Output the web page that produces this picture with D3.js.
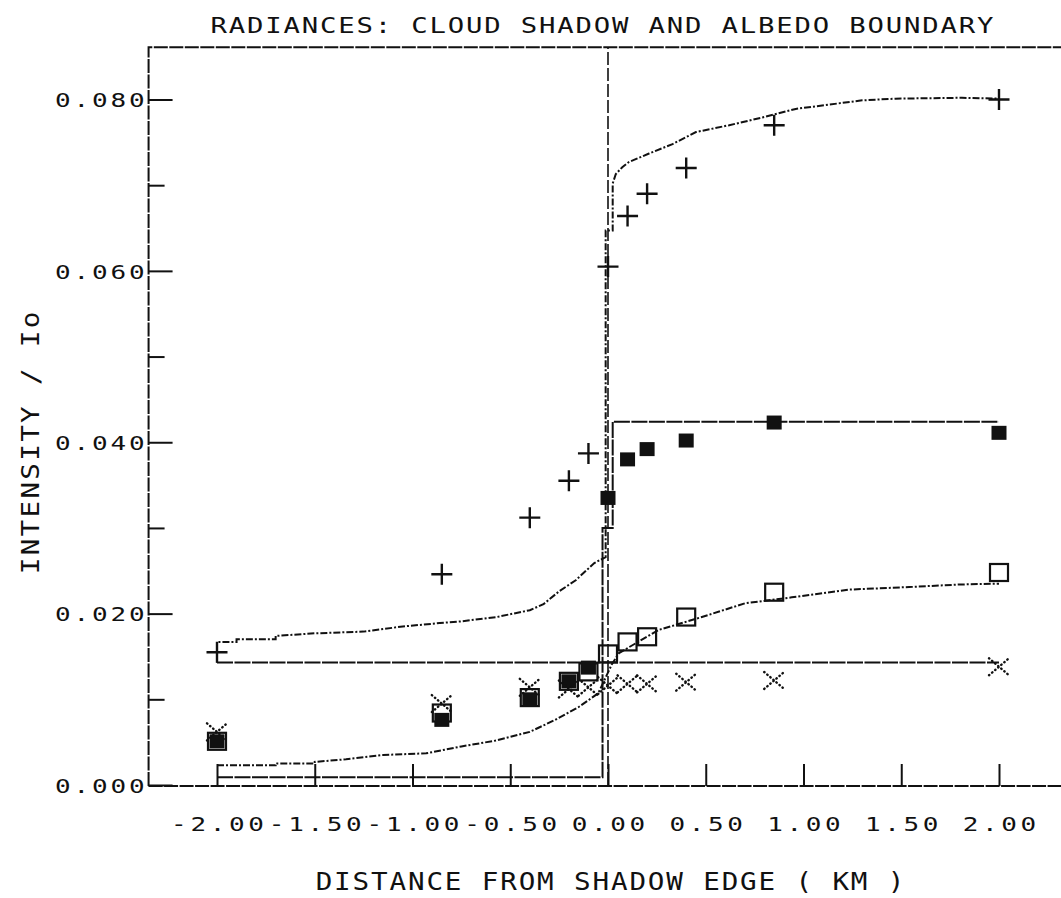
<!DOCTYPE html>
<html>
<head>
<meta charset="utf-8">
<script src="https://cdn.jsdelivr.net/npm/d3@7"></script>
<style>
  body { margin: 0; background: #fff; }
  svg { display: block; }
  text { font-family: "DejaVu Sans Mono", "Liberation Mono", monospace; fill: #111; }
</style>
</head>
<body>
<svg id="chart"></svg>
<script>
// sample distances (km) from the shadow edge
const distances = [-2.0, -0.85, -0.4, -0.2, -0.1, 0.0, 0.1, 0.2, 0.4, 0.85, 2.0];

// measured radiances, one array per symbol
const plusValues = [0.0155, 0.0246, 0.0312, 0.0355, 0.0387, 0.0605, 0.0664, 0.0690, 0.0720, 0.0770, 0.0800];
const filledValues = [0.0051, 0.0076, 0.0100, 0.0121, 0.0137, 0.0335, 0.0380, 0.0392, 0.0402, 0.0423, 0.0411];
const openValues = [0.0051, 0.0084, 0.0102, 0.0121, 0.0132, 0.0153, 0.0167, 0.0173, 0.0196, 0.0225, 0.0248];
const crossValues = [0.0062, 0.0095, 0.0114, 0.0112, 0.0114, 0.0116, 0.0118, 0.0118, 0.0120, 0.0122, 0.0138];

// model curves [distance, intensity]
const modelPlus = [
  [-2.0, 0.0143], [-2.0, 0.0167], [-1.9, 0.0167], [-1.9, 0.0170], [-1.7, 0.0170],
  [-1.7, 0.0174], [-1.5, 0.0177], [-1.25, 0.0179], [-1.05, 0.0185], [-0.86, 0.0189],
  [-0.75, 0.0191], [-0.57, 0.0196], [-0.40, 0.0204], [-0.33, 0.0211], [-0.25, 0.0226],
  [-0.165, 0.0239], [-0.07, 0.0259], [-0.012, 0.0266], [-0.012, 0.0647], [0.024, 0.0647],
  [0.024, 0.0702], [0.04, 0.0713], [0.073, 0.0721], [0.107, 0.0727], [0.21, 0.0737],
  [0.33, 0.0748], [0.45, 0.0762], [0.62, 0.0770], [0.79, 0.0779], [0.96, 0.0789],
  [1.13, 0.0794], [1.30, 0.0799], [1.47, 0.0801], [1.81, 0.0802], [2.0, 0.0801]
];
const modelFilled = [
  [-2.0, 0.0009], [-0.028, 0.0009], [-0.028, 0.0300], [0.024, 0.0300], [0.024, 0.0424], [2.0, 0.0424]
];
const modelOpen = [
  [-2.0, 0.0023], [-1.7, 0.0023], [-1.7, 0.0025], [-1.5, 0.0025], [-1.5, 0.0027],
  [-1.34, 0.0030], [-1.15, 0.0035], [-0.93, 0.0037], [-0.75, 0.0045], [-0.57, 0.0052],
  [-0.40, 0.0062], [-0.27, 0.0076], [-0.15, 0.0091], [-0.05, 0.0107], [0.02, 0.0141],
  [0.056, 0.0154], [0.26, 0.0181], [0.48, 0.0196], [0.70, 0.0212], [0.94, 0.0219],
  [1.23, 0.0228], [1.54, 0.0231], [1.80, 0.0234], [2.0, 0.0235]
];
const modelCross = [[-2.0, 0.0143], [2.0, 0.0143]];
const shadowEdge = [[0, 0], [0, 0.0861]];

const xTickValues = [-2, -1.5, -1, -0.5, 0, 0.5, 1, 1.5, 2];
const yMajorTicks = [0, 0.02, 0.04, 0.06, 0.08];
const yMinorTicks = [0.01, 0.03, 0.05, 0.07];
const xFrame = [-2.35, 2.35];
const yFrameTop = 0.0861;

const titleText = "RADIANCES: CLOUD SHADOW AND ALBEDO BOUNDARY";
const xLabelText = "DISTANCE FROM SHADOW EDGE ( KM )";
const yLabelText = "INTENSITY / Io";

class RadianceChart {
  constructor(_config) {
    this.config = {
      parentElement: _config.parentElement,
      containerWidth: _config.containerWidth || 1061,
      containerHeight: _config.containerHeight || 898,
      lineWidth: 2,
      // plotter lettering is wider than the mono font, so stretch it
      stretch: 1.3,
      titleStretch: 1.15,
    };
    this.initVis();
  }

  initVis() {
    let vis = this;
    const s = vis.config.stretch;
    const ts = vis.config.titleStretch;

    vis.svg = d3
      .select(vis.config.parentElement)
      .attr("width", vis.config.containerWidth)
      .attr("height", vis.config.containerHeight);

    vis.x = d3.scaleLinear().domain([-2, 2]).range([217, 999]);
    vis.y = d3.scaleLinear().domain([0, 0.08]).range([785, 99.5]);

    vis.line = d3
      .line()
      .x((d) => vis.x(d[0]))
      .y((d) => vis.y(d[1]));

    vis.chart = vis.svg.append("g");

    // title
    vis.svg
      .append("text")
      .attr("transform", `translate(602,33) scale(${s},1)`)
      .attr("dx", 0.7)
      .attr("text-anchor", "middle")
      .style("font-size", "21px")
      .style("letter-spacing", "1.4px")
      .text(titleText);

    // frame: left, top, bottom
    const x0 = vis.x(xFrame[0]);
    const x1 = vis.x(xFrame[1]);
    const yb = vis.y(0) + 1;
    const yt = vis.y(yFrameTop);
    vis.chart
      .append("path")
      .attr("d", `M${x0},${yb}V${yt}H${x1}M${x0},${yb}H${x1}`)
      .attr("fill", "none")
      .attr("stroke", "#111")
      .attr("stroke-width", vis.config.lineWidth)
      .attr("stroke-dasharray", "14,1.5");

    // y axis, major and minor ticks pointing inward
    const yMajor = vis.chart
      .append("g")
      .attr("transform", `translate(${x0},0)`)
      .call(
        d3
          .axisLeft(vis.y)
          .tickValues(yMajorTicks)
          .tickSizeInner(-24)
          .tickSizeOuter(0)
          .tickFormat((d) => d.toFixed(3)),
      );
    yMajor.select(".domain").remove();
    yMajor.selectAll(".tick line").attr("stroke", "#111").attr("stroke-width", vis.config.lineWidth);
    yMajor
      .selectAll(".tick text")
      .attr("x", (55 - x0) / s)
      .attr("transform", `scale(${s},1)`)
      .attr("dy", "0.36em")
      .attr("text-anchor", "start")
      .style("font-size", "20px")
      .style("letter-spacing", "2.2px")
      .style("font-family", null);

    const yMinor = vis.chart
      .append("g")
      .attr("transform", `translate(${x0},0)`)
      .call(d3.axisLeft(vis.y).tickValues(yMinorTicks).tickSizeInner(-16).tickSizeOuter(0).tickFormat(""));
    yMinor.select(".domain").remove();
    yMinor.selectAll(".tick line").attr("stroke", "#111").attr("stroke-width", vis.config.lineWidth);

    // x axis with upward ticks
    const xAxis = vis.chart
      .append("g")
      .attr("transform", `translate(0,${yb})`)
      .call(
        d3
          .axisBottom(vis.x)
          .tickValues(xTickValues)
          .tickSizeInner(-22)
          .tickSizeOuter(0)
          .tickFormat((d) => d.toFixed(2)),
      );
    xAxis.select(".domain").remove();
    xAxis.selectAll(".tick line").attr("stroke", "#111").attr("stroke-width", vis.config.lineWidth);
    xAxis
      .selectAll(".tick text")
      .attr("y", 45)
      .attr("dy", 0)
      .attr("dx", 1.4)
      .attr("transform", `scale(${s},1)`)
      .style("font-size", "20px")
      .style("letter-spacing", "2.8px")
      .style("font-family", null);

    // axis titles
    vis.svg
      .append("text")
      .attr("transform", `translate(610,890) scale(${ts},1)`)
      .attr("dx", 0.8)
      .attr("text-anchor", "middle")
      .style("font-size", "24px")
      .style("letter-spacing", "1.6px")
      .text(xLabelText);

    vis.svg
      .append("text")
      .attr("transform", `translate(39,443) rotate(-90) scale(${ts},1)`)
      .attr("dx", 1)
      .attr("text-anchor", "middle")
      .style("font-size", "24px")
      .style("letter-spacing", "2px")
      .text(yLabelText);

    vis.updateVis();
  }

  updateVis() {
    let vis = this;

    // shadow edge reference line
    vis.chart
      .append("path")
      .datum(shadowEdge)
      .attr("d", vis.line)
      .attr("fill", "none")
      .attr("stroke", "#111")
      .attr("stroke-width", 1.6)
      .attr("stroke-dasharray", "13,3");

    const models = [
      { data: modelCross, dash: "16,1.5" },
      { data: modelFilled, dash: "16,1.5" },
      { data: modelOpen, dash: "7,2,2,2" },
      { data: modelPlus, dash: "7,2,2,2" },
    ];

    vis.chart
      .selectAll(".model")
      .data(models)
      .join("path")
      .attr("class", "model")
      .attr("d", (d) => vis.line(d.data))
      .attr("fill", "none")
      .attr("stroke", "#111")
      .attr("stroke-width", vis.config.lineWidth)
      .attr("stroke-dasharray", (d) => d.dash);

    const pts = (values) => distances.map((d, i) => ({ x: d, v: values[i] }));

    // open squares
    vis.chart
      .selectAll(".open-sq")
      .data(pts(openValues))
      .join("rect")
      .attr("class", "open-sq")
      .attr("x", (d) => vis.x(d.x) - 9)
      .attr("y", (d) => vis.y(d.v) - 8.5)
      .attr("width", 18)
      .attr("height", 17)
      .attr("fill", "none")
      .attr("stroke", "#111")
      .attr("stroke-width", 2.2);

    // filled squares
    vis.chart
      .selectAll(".filled-sq")
      .data(pts(filledValues))
      .join("rect")
      .attr("class", "filled-sq")
      .attr("x", (d) => vis.x(d.x) - 7.5)
      .attr("y", (d) => vis.y(d.v) - 7)
      .attr("width", 15)
      .attr("height", 14)
      .attr("fill", "#111");

    // crosses (dotted)
    vis.chart
      .selectAll(".cross")
      .data(pts(crossValues))
      .join("path")
      .attr("class", "cross")
      .attr("d", (d) => {
        const cx = vis.x(d.x);
        const cy = vis.y(d.v);
        return `M${cx - 10},${cy - 8.5}L${cx + 10},${cy + 8.5}M${cx - 10},${cy + 8.5}L${cx + 10},${cy - 8.5}`;
      })
      .attr("fill", "none")
      .attr("stroke", "#111")
      .attr("stroke-width", 2.4)
      .attr("stroke-linecap", "round")
      .attr("stroke-dasharray", "0.5,3.5");

    // pluses
    vis.chart
      .selectAll(".plus")
      .data(pts(plusValues))
      .join("path")
      .attr("class", "plus")
      .attr("d", (d) => {
        const cx = vis.x(d.x);
        const cy = vis.y(d.v);
        return `M${cx - 10.5},${cy}H${cx + 10.5}M${cx},${cy - 10.5}V${cy + 10.5}`;
      })
      .attr("fill", "none")
      .attr("stroke", "#111")
      .attr("stroke-width", 2.4);
  }
}

const chart = new RadianceChart({ parentElement: "#chart" });
</script>
</body>
</html>
